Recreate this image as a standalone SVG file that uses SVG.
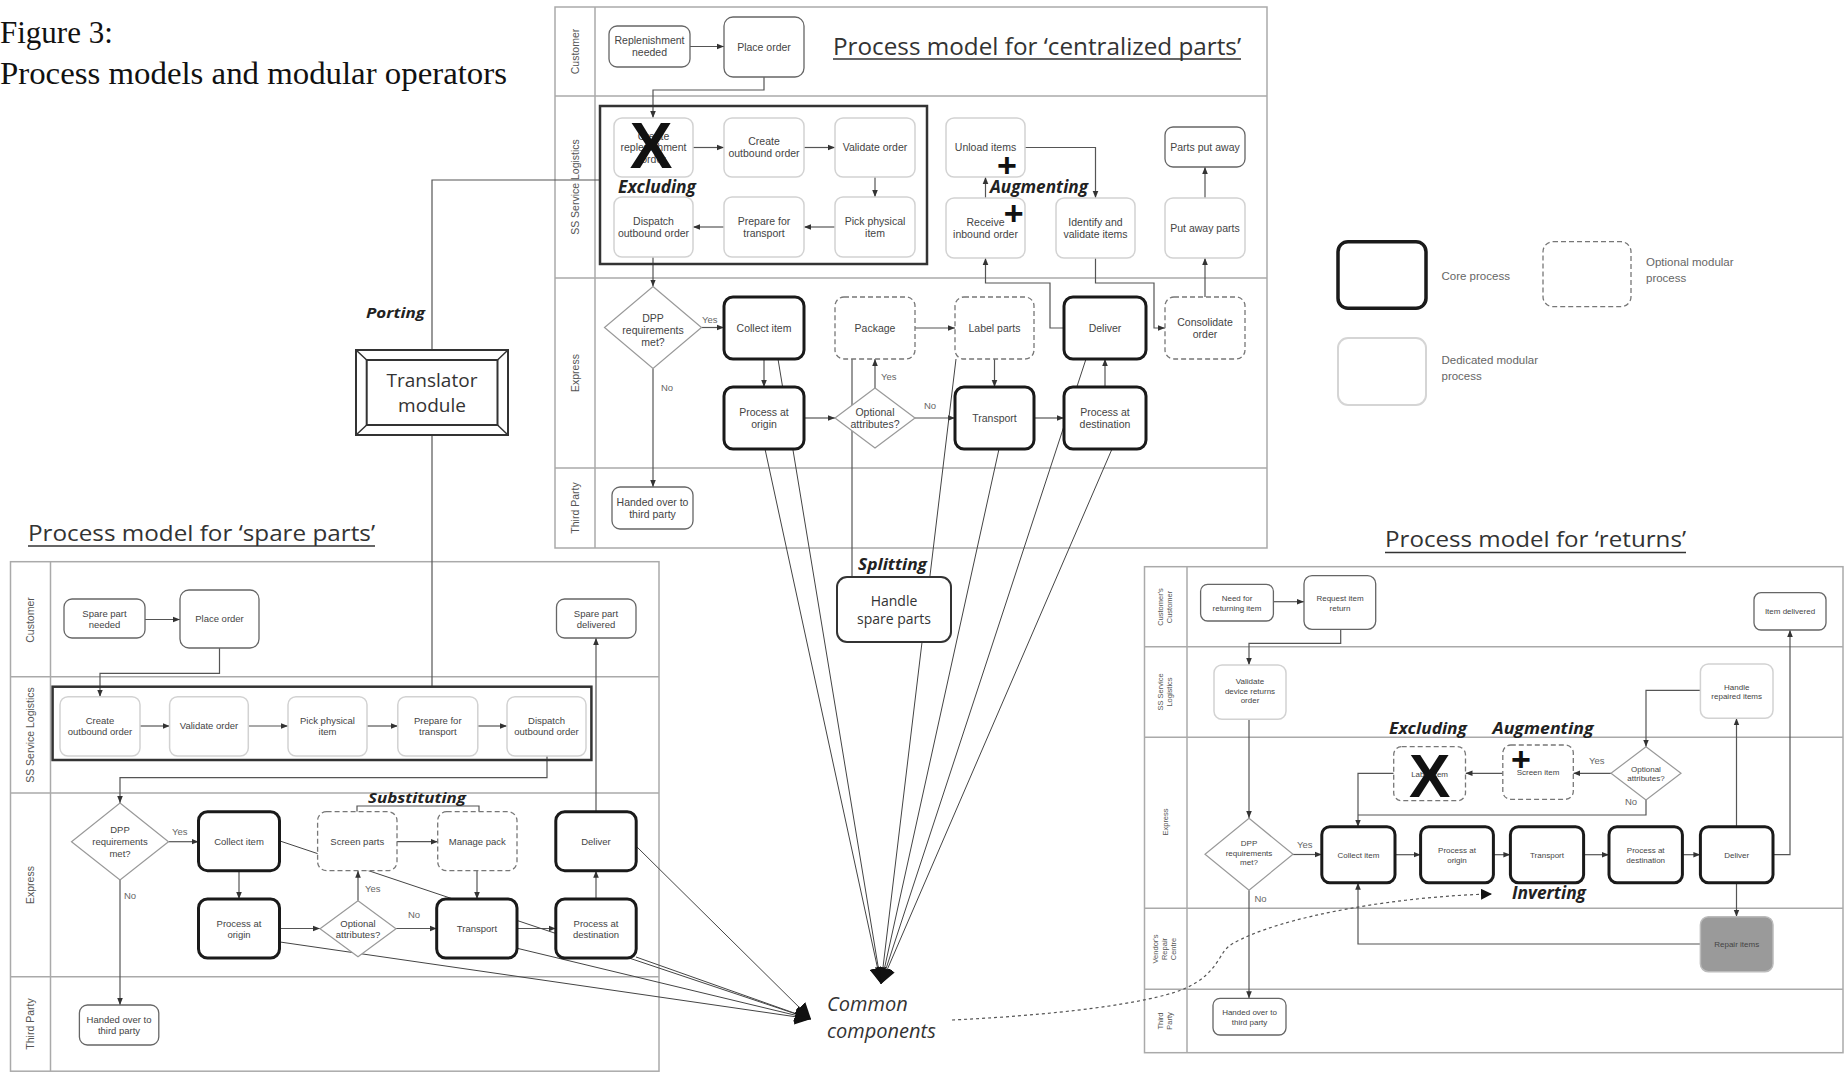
<svg xmlns="http://www.w3.org/2000/svg" width="1844" height="1072" viewBox="0 0 1844 1072">
<defs>
<style>
.core{fill:#fff;stroke:#1a1a1a;stroke-width:3}
.ded{fill:#fff;stroke:#d2d2d2;stroke-width:1.5}
.opt{fill:#fff;stroke:#777;stroke-width:1.3;stroke-dasharray:5 3}
.ev{fill:#fff;stroke:#666;stroke-width:1.3}
.dia{fill:#fff;stroke:#999;stroke-width:1.2}
.grp{fill:none;stroke:#333;stroke-width:2.5}
.pan{fill:#fff;stroke:#aaa;stroke-width:1.5}
.lane{stroke:#aaa;stroke-width:1.5}
.t{font-family:"Liberation Sans",Arial,sans-serif;font-size:10.5px;fill:#444;text-anchor:middle}
.ts{font-family:"Liberation Sans",Arial,sans-serif;font-size:9.5px;fill:#444;text-anchor:middle}
.tr{font-family:"Liberation Sans",Arial,sans-serif;font-size:8px;fill:#444;text-anchor:middle}
.ll{font-family:"Liberation Sans",Arial,sans-serif;font-size:10.5px;fill:#555;text-anchor:middle}
.llr{font-family:"Liberation Sans",Arial,sans-serif;font-size:7.5px;fill:#555;text-anchor:middle}
.yn{font-family:"Liberation Sans",Arial,sans-serif;font-size:9.5px;fill:#666}
.op{font-family:"Open Sans",sans-serif;font-weight:bold;font-style:italic;fill:#222}
.ttl{font-family:"Open Sans",sans-serif;fill:#333}
.lg{font-family:"Liberation Sans",Arial,sans-serif;font-size:11.5px;fill:#666}
.mark{font-family:"Liberation Sans",Arial,sans-serif;font-weight:bold;fill:#111;text-anchor:middle}
#connectors path{fill:none;stroke:#555;stroke-width:1.2}
#connectors .arr{marker-end:url(#a)}
#connectors .cc{stroke:#444;stroke-width:1;marker-end:url(#big)}
#connectors .dot{stroke:#555;stroke-width:1.2;stroke-dasharray:3 3;marker-end:url(#tri)}
</style>
<marker id="a" viewBox="0 0 10 10" refX="10" refY="5" markerWidth="7" markerHeight="7" markerUnits="userSpaceOnUse" orient="auto"><path d="M0,1 L10,5 L0,9 z" fill="#333"/></marker>
<marker id="big" viewBox="0 0 10 10" refX="10" refY="5" markerWidth="16" markerHeight="16" markerUnits="userSpaceOnUse" orient="auto"><path d="M0,0 L10,5 L0,10 z" fill="#111"/></marker>
<marker id="tri" viewBox="0 0 10 10" refX="10" refY="5" markerWidth="11" markerHeight="11" markerUnits="userSpaceOnUse" orient="auto"><path d="M0,0 L10,5 L0,10 z" fill="#111"/></marker>
</defs>
<rect width="1844" height="1072" fill="#fff"/>

<g id="figure-title" font-family="'Liberation Serif','Times New Roman',serif" font-size="31" fill="#111">
<text x="0" y="43">Figure 3:</text>
<text x="0" y="84" textLength="507" lengthAdjust="spacingAndGlyphs">Process models and modular operators</text>
</g>

<!-- Panels -->
<g id="panel-centralized">
<rect class="pan" x="555" y="7" width="712" height="541"/>
<line class="lane" x1="595" y1="7" x2="595" y2="548"/>
<line class="lane" x1="555" y1="96" x2="1267" y2="96"/>
<line class="lane" x1="555" y1="278" x2="1267" y2="278"/>
<line class="lane" x1="555" y1="468" x2="1267" y2="468"/>
<text class="ll" transform="translate(579,51.5) rotate(-90)">Customer</text>
<text class="ll" transform="translate(579,187) rotate(-90)">SS Service Logistics</text>
<text class="ll" transform="translate(579,373) rotate(-90)">Express</text>
<text class="ll" transform="translate(579,508) rotate(-90)">Third Party</text>
<text class="ttl" x="833" y="55" font-size="24" textLength="408" lengthAdjust="spacingAndGlyphs">Process model for ‘centralized parts’</text>
<line x1="833" y1="59" x2="1241" y2="59" stroke="#333" stroke-width="1.6"/>
</g>

<g id="panel-spare">
<rect class="pan" x="10.5" y="561.7" width="648.5" height="509.5"/>
<line class="lane" x1="50.5" y1="561.7" x2="50.5" y2="1071.2"/>
<line class="lane" x1="10.5" y1="676.7" x2="659" y2="676.7"/>
<line class="lane" x1="10.5" y1="793" x2="659" y2="793"/>
<line class="lane" x1="10.5" y1="976.7" x2="659" y2="976.7"/>
<text class="ll" transform="translate(34,620) rotate(-90)">Customer</text>
<text class="ll" transform="translate(34,735) rotate(-90)">SS Service Logistics</text>
<text class="ll" transform="translate(34,885) rotate(-90)">Express</text>
<text class="ll" transform="translate(34,1024) rotate(-90)">Third Party</text>
<text class="ttl" x="28" y="541" font-size="22" textLength="347" lengthAdjust="spacingAndGlyphs">Process model for ‘spare parts’</text>
<line x1="28" y1="546" x2="375" y2="546" stroke="#333" stroke-width="1.6"/>
</g>

<g id="panel-returns">
<rect class="pan" x="1144.5" y="566.7" width="698.5" height="486"/>
<line class="lane" x1="1187" y1="566.7" x2="1187" y2="1052.7"/>
<line class="lane" x1="1144.5" y1="646.7" x2="1843" y2="646.7"/>
<line class="lane" x1="1144.5" y1="737.3" x2="1843" y2="737.3"/>
<line class="lane" x1="1144.5" y1="908.3" x2="1843" y2="908.3"/>
<line class="lane" x1="1144.5" y1="989.3" x2="1843" y2="989.3"/>
<text class="llr" transform="translate(1163,607) rotate(-90)"><tspan x="0" dy="0">Customer's</tspan><tspan x="0" dy="9">Customer</tspan></text>
<text class="llr" transform="translate(1163,692) rotate(-90)"><tspan x="0" dy="0">SS Service</tspan><tspan x="0" dy="9">Logistics</tspan></text>
<text class="llr" transform="translate(1168,822) rotate(-90)">Express</text>
<text class="llr" transform="translate(1158,949) rotate(-90)"><tspan x="0" dy="0">Vendor's</tspan><tspan x="0" dy="9">Repair</tspan><tspan x="0" dy="9">Centre</tspan></text>
<text class="llr" transform="translate(1163,1021) rotate(-90)"><tspan x="0" dy="0">Third</tspan><tspan x="0" dy="9">Party</tspan></text>
<text class="ttl" x="1385" y="547" font-size="22" textLength="301" lengthAdjust="spacingAndGlyphs">Process model for ‘returns’</text>
<line x1="1385" y1="552.5" x2="1686" y2="552.5" stroke="#333" stroke-width="1.6"/>
</g>

<!-- Connectors -->
<g id="connectors">
<!-- centralized -->
<path class="arr" d="M690,46.5 H724"/>
<path class="arr" d="M764,77 V90 H653 V118"/>
<path class="arr" d="M693,147.5 H724"/>
<path class="arr" d="M804,147.5 H835"/>
<path class="arr" d="M875,177 V197"/>
<path class="arr" d="M835,227 H804"/>
<path class="arr" d="M724,227 H693"/>
<path class="arr" d="M653,257 V286.5"/>
<path class="arr" d="M701.5,327.5 H724"/>
<path class="arr" d="M653,368.5 V487"/>
<path class="arr" d="M764,359 V387"/>
<path class="arr" d="M804,418 H835"/>
<path class="arr" d="M875,388 V359"/>
<path class="arr" d="M915,418 H955"/>
<path class="arr" d="M915,328 H955"/>
<path class="arr" d="M994.5,359 V387"/>
<path class="arr" d="M1034,418 H1064"/>
<path class="arr" d="M1105,387 V359"/>
<path class="arr" d="M1064,328 H1050 V283 H985.5 V258"/>
<path class="arr" d="M985.5,198 V177"/>
<path class="arr" d="M1025,147.5 H1095.5 V198"/>
<path class="arr" d="M1095.5,258 V283 H1154 V328 H1165"/>
<path class="arr" d="M1205,297 V258"/>
<path class="arr" d="M1205,198 V167"/>
<path d="M852,359 V577"/>
<path d="M432,350 V180 H600" stroke-width="1.6"/>
<!-- spare parts -->
<path class="arr" d="M145,619.5 H180"/>
<path class="arr" d="M219.5,648 V673.3 H100 V696.7"/>
<path class="arr" d="M140,726 H169.6"/>
<path class="arr" d="M248.3,726 H288"/>
<path class="arr" d="M367,726 H397.8"/>
<path class="arr" d="M477.8,726 H507"/>
<path class="arr" d="M547,756 V777.7 H120 V803"/>
<path class="arr" d="M168.5,841.7 H198.5"/>
<path class="arr" d="M120,880 V1005"/>
<path class="arr" d="M239,870.7 V899"/>
<path class="arr" d="M279.5,928.5 H320"/>
<path class="arr" d="M358,900.7 V870.7"/>
<path class="arr" d="M396,928.5 H436.7"/>
<path class="arr" d="M397,841.7 H437.7"/>
<path class="arr" d="M477,870.7 V899"/>
<path class="arr" d="M517,928.5 H555.8"/>
<path class="arr" d="M596,899 V870.7"/>
<path class="arr" d="M596,811.7 V638"/>
<path d="M432,435 V686.7" stroke-width="1.6"/>
<path d="M357,811.7 V806 H479 V811.7" stroke="#333" stroke-width="1.8"/>
<!-- returns -->
<path class="arr" d="M1273.4,601.7 H1304"/>
<path class="arr" d="M1340.7,629.3 V643.3 H1249 V665"/>
<path class="arr" d="M1249,719.3 V818"/>
<path class="arr" d="M1293,854.5 H1321.8"/>
<path class="arr" d="M1249,890.2 V998.3"/>
<path class="arr" d="M1395,854.7 H1420.6"/>
<path class="arr" d="M1493.4,854.7 H1510.4"/>
<path class="arr" d="M1583.6,854.7 H1609"/>
<path class="arr" d="M1682.4,854.7 H1700.4"/>
<path class="arr" d="M1736.5,826.7 V718.3"/>
<path class="arr" d="M1773,854.7 H1790 V630"/>
<path class="arr" d="M1700.4,690.3 H1646 V746.7"/>
<path class="arr" d="M1611,773.3 H1573.3"/>
<path class="arr" d="M1502.8,773.3 H1465.5"/>
<path class="arr" d="M1393.7,773.3 H1358 V826.7"/>
<path d="M1646,800 V815 H1358"/>
<path class="arr" d="M1736.5,882.7 V916.7"/>
<path class="arr" d="M1700.4,944 H1358 V882.7"/>
<!-- common components -->
<path class="cc" d="M765,449 L881,984"/>
<path class="cc" d="M778,359 L881,984"/>
<path class="cc" d="M956,359 L881,984"/>
<path class="cc" d="M999,449 L881,984"/>
<path class="cc" d="M1086,359 L881,984"/>
<path class="cc" d="M1112,449 L881,984"/>
<path class="cc" d="M280,841 L811,1019"/>
<path class="cc" d="M280,942 L811,1019"/>
<path class="cc" d="M516,948 L811,1019"/>
<path class="cc" d="M636,957 L811,1019"/>
<path class="cc" d="M637,847 L811,1019"/>
<path class="dot" d="M952,1020 C1080,1014 1160,1000 1186,988 C1220,972 1218,952 1232,944 C1280,916 1400,896 1492,894"/>
</g>

<!-- Centralized nodes -->
<g id="c_repl"><rect class="ev" x="609" y="26" width="81" height="41" rx="8"/><text class="t" font-size="10" x="649.5" y="43.5">Replenishment<tspan x="649.5" dy="12.5">needed</tspan></text></g>
<g id="c_place"><rect class="ev" x="724" y="17" width="80" height="60" rx="9"/><text class="t" x="764" y="50.7">Place order</text></g>
<g id="c_exclude_group"><rect class="grp" x="600" y="106" width="327" height="158"/></g>
<g id="c_t1"><rect class="ded" x="614" y="118" width="79" height="59" rx="8"/><text class="t" font-size="10" x="653.5" y="139.5" fill="#777">Create<tspan x="653.5" dy="11.5">replenishment</tspan><tspan x="653.5" dy="11.5">order</tspan></text><text class="mark" font-size="64" x="651" y="168.3">X</text></g>
<g id="c_t2"><rect class="ded" x="724" y="118" width="80" height="59" rx="8"/><text class="t" x="764" y="145.3">Create<tspan x="764" dy="12">outbound order</tspan></text></g>
<g id="c_t3"><rect class="ded" x="835" y="118" width="80" height="59" rx="8"/><text class="t" x="875" y="151.2">Validate order</text></g>
<g id="c_t4"><rect class="ded" x="835" y="197" width="80" height="60" rx="8"/><text class="t" x="875" y="224.8">Pick physical<tspan x="875" dy="12">item</tspan></text></g>
<g id="c_t5"><rect class="ded" x="724" y="197" width="80" height="60" rx="8"/><text class="t" x="764" y="224.8">Prepare for<tspan x="764" dy="12">transport</tspan></text></g>
<g id="c_t6"><rect class="ded" x="614" y="197" width="79" height="60" rx="8"/><text class="t" x="653.5" y="224.8">Dispatch<tspan x="653.5" dy="12">outbound order</tspan></text></g>
<g id="c_excluding_label"><text class="op" x="618" y="193" font-size="17" textLength="78" lengthAdjust="spacingAndGlyphs">Excluding</text></g>
<g id="c_unload"><rect class="ded" x="946" y="118" width="79" height="59" rx="8"/><text class="t" x="985.5" y="151.2">Unload items</text></g>
<g id="c_receive"><rect class="ded" x="946" y="198" width="79" height="60" rx="8"/><text class="t" x="985.5" y="225.8">Receive<tspan x="985.5" dy="12">inbound order</tspan></text></g>
<g id="c_identify"><rect class="ded" x="1056" y="198" width="79" height="60" rx="8"/><text class="t" x="1095.5" y="225.8">Identify and<tspan x="1095.5" dy="12">validate items</tspan></text></g>
<g id="c_partsaway"><rect class="ev" x="1165" y="127" width="80" height="40" rx="8"/><text class="t" x="1205" y="150.7">Parts put away</text></g>
<g id="c_putaway"><rect class="ded" x="1165" y="198" width="80" height="60" rx="8"/><text class="t" x="1205" y="231.7">Put away parts</text></g>
<g id="c_augmenting"><text class="mark" font-size="34" x="1007" y="176.6">+</text><text class="mark" font-size="34" x="1013.6" y="225">+</text><text class="op" x="990" y="193" font-size="17" textLength="98" lengthAdjust="spacingAndGlyphs">Augmenting</text></g>
<g id="c_dpp"><polygon class="dia" points="653,286.5 701.5,327.5 653,368.5 604.5,327.5"/><text class="t" font-size="10" x="653" y="321.5">DPP<tspan x="653" dy="12">requirements</tspan><tspan x="653" dy="12">met?</tspan></text></g>
<g id="c_collect"><rect class="core" x="724" y="297" width="80" height="62" rx="9"/><text class="t" x="764" y="331.7">Collect item</text></g>
<g id="c_package"><rect class="opt" x="835" y="297" width="80" height="62" rx="9"/><text class="t" x="875" y="331.7">Package</text></g>
<g id="c_label"><rect class="opt" x="955" y="297" width="79" height="62" rx="9"/><text class="t" x="994.5" y="331.7">Label parts</text></g>
<g id="c_deliver"><rect class="core" x="1064" y="297" width="82" height="62" rx="9"/><text class="t" x="1105" y="331.7">Deliver</text></g>
<g id="c_consol"><rect class="opt" x="1165" y="297" width="80" height="62" rx="9"/><text class="t" x="1205" y="325.8">Consolidate<tspan x="1205" dy="12">order</tspan></text></g>
<g id="c_origin"><rect class="core" x="724" y="387" width="80" height="62" rx="9"/><text class="t" x="764" y="415.8">Process at<tspan x="764" dy="12">origin</tspan></text></g>
<g id="c_opt"><polygon class="dia" points="875,388 915,418 875,448 835,418"/><text class="t" font-size="10" x="875" y="415.8">Optional<tspan x="875" dy="12">attributes?</tspan></text></g>
<g id="c_transport"><rect class="core" x="955" y="387" width="79" height="62" rx="9"/><text class="t" x="994.5" y="421.7">Transport</text></g>
<g id="c_dest"><rect class="core" x="1064" y="387" width="82" height="62" rx="9"/><text class="t" x="1105" y="415.8">Process at<tspan x="1105" dy="12">destination</tspan></text></g>
<g id="c_handed"><rect class="ev" x="612" y="487" width="81" height="42" rx="8"/><text class="t" x="652.5" y="505.8">Handed over to<tspan x="652.5" dy="12">third party</tspan></text></g>
<g id="c_yesno"><text class="yn" x="702" y="323">Yes</text><text class="yn" x="661" y="391">No</text><text class="yn" x="881" y="380">Yes</text><text class="yn" x="924" y="409">No</text></g>

<!-- Translator, splitting, common components -->
<g id="n_translator">
<rect x="356" y="350" width="152" height="85" fill="#fff" stroke="#333" stroke-width="2"/>
<rect x="366.7" y="360" width="130.8" height="65" fill="#fff" stroke="#333" stroke-width="2"/>
<path d="M356,350 L366.7,360 M508,350 L497.5,360 M356,435 L366.7,425 M508,435 L497.5,425" stroke="#333" stroke-width="1.5"/>
<text class="ttl" x="432" y="387" font-size="19" text-anchor="middle">Translator</text>
<text class="ttl" x="432" y="412" font-size="19" text-anchor="middle">module</text>
</g>
<g id="l_porting"><text class="op" x="366" y="318" font-size="15" textLength="59" lengthAdjust="spacingAndGlyphs">Porting</text></g>
<g id="n_handle_spare"><rect x="837" y="577" width="114" height="65" rx="10" fill="#fff" stroke="#333" stroke-width="2"/><text class="ttl" x="894" y="606" font-size="14" text-anchor="middle" fill="#444">Handle</text><text class="ttl" x="894" y="624" font-size="14" text-anchor="middle" fill="#444">spare parts</text></g>
<g id="l_splitting"><text class="op" x="858" y="570" font-size="16" textLength="69" lengthAdjust="spacingAndGlyphs">Splitting</text></g>
<g id="n_common"><text class="ttl" x="827" y="1011" font-size="20" font-style="italic" fill="#444">Common</text><text class="ttl" x="827" y="1038" font-size="20" font-style="italic" fill="#444">components</text></g>

<!-- Legend -->
<g id="legend">
<rect x="1338" y="241.7" width="88" height="66.6" rx="10" fill="#fff" stroke="#1a1a1a" stroke-width="3.5"/>
<text class="lg" x="1441.5" y="280">Core process</text>
<rect x="1543" y="241.7" width="88" height="65" rx="10" fill="#fff" stroke="#777" stroke-width="1.3" stroke-dasharray="5 3"/>
<text class="lg" x="1646" y="266">Optional modular</text>
<text class="lg" x="1646" y="282">process</text>
<rect x="1338" y="338" width="88" height="67" rx="10" fill="#fff" stroke="#d5d5d5" stroke-width="2"/>
<text class="lg" x="1441.5" y="364">Dedicated modular</text>
<text class="lg" x="1441.5" y="380">process</text>
</g>

<!-- Spare parts nodes -->
<g id="s_need"><rect class="ev" x="64" y="599" width="81" height="39" rx="8"/><text class="ts" x="104.5" y="616.5">Spare part<tspan x="104.5" dy="11">needed</tspan></text></g>
<g id="s_place"><rect class="ev" x="180" y="590" width="79" height="58" rx="9"/><text class="ts" x="219.5" y="622.3">Place order</text></g>
<g id="s_delivered"><rect class="ev" x="556.5" y="599" width="79.5" height="39" rx="8"/><text class="ts" x="596" y="616.5">Spare part<tspan x="596" dy="11">delivered</tspan></text></g>
<g id="s_group"><rect class="grp" x="52.6" y="686.7" width="538.8" height="73.3"/></g>
<g id="s_t1"><rect class="ded" x="60" y="696.7" width="80" height="59.3" rx="8"/><text class="ts" x="100" y="724">Create<tspan x="100" dy="11">outbound order</tspan></text></g>
<g id="s_t2"><rect class="ded" x="169.6" y="696.7" width="78.7" height="59.3" rx="8"/><text class="ts" x="209" y="729.3">Validate order</text></g>
<g id="s_t3"><rect class="ded" x="288" y="696.7" width="79" height="59.3" rx="8"/><text class="ts" x="327.5" y="724">Pick physical<tspan x="327.5" dy="11">item</tspan></text></g>
<g id="s_t4"><rect class="ded" x="397.8" y="696.7" width="80" height="59.3" rx="8"/><text class="ts" x="437.8" y="724">Prepare for<tspan x="437.8" dy="11">transport</tspan></text></g>
<g id="s_t5"><rect class="ded" x="507" y="696.7" width="79" height="59.3" rx="8"/><text class="ts" x="546.5" y="724">Dispatch<tspan x="546.5" dy="11">outbound order</tspan></text></g>
<g id="s_dpp"><polygon class="dia" points="120,803 168.5,841.7 120,880 71.5,841.7"/><text class="ts" font-size="9" x="120" y="833">DPP<tspan x="120" dy="12">requirements</tspan><tspan x="120" dy="12">met?</tspan></text></g>
<g id="s_collect"><rect class="core" x="198.5" y="811.7" width="81" height="59" rx="9"/><text class="ts" x="239" y="844.5">Collect item</text></g>
<g id="s_screen"><rect class="opt" x="317.6" y="811.7" width="79.4" height="59" rx="9"/><text class="ts" x="357.3" y="844.5">Screen parts</text></g>
<g id="s_pack"><rect class="opt" x="437.7" y="811.7" width="79.3" height="59" rx="9"/><text class="ts" x="477.3" y="844.5">Manage pack</text></g>
<g id="s_deliver"><rect class="core" x="555.8" y="811.7" width="80.4" height="59" rx="9"/><text class="ts" x="596" y="844.5">Deliver</text></g>
<g id="s_origin"><rect class="core" x="198.5" y="899" width="81" height="59" rx="9"/><text class="ts" x="239" y="926.5">Process at<tspan x="239" dy="11">origin</tspan></text></g>
<g id="s_opt"><polygon class="dia" points="358,900.7 396,928.7 358,956.7 320,928.7"/><text class="ts" font-size="9" x="358" y="926.5">Optional<tspan x="358" dy="11">attributes?</tspan></text></g>
<g id="s_transport"><rect class="core" x="436.7" y="899" width="80.3" height="59" rx="9"/><text class="ts" x="477" y="931.8">Transport</text></g>
<g id="s_dest"><rect class="core" x="555.8" y="899" width="80.4" height="59" rx="9"/><text class="ts" x="596" y="926.5">Process at<tspan x="596" dy="11">destination</tspan></text></g>
<g id="s_handed"><rect class="ev" x="79.4" y="1005" width="79.4" height="40" rx="8"/><text class="ts" x="119" y="1023">Handed over to<tspan x="119" dy="11">third party</tspan></text></g>
<g id="s_substituting"><text class="op" x="368" y="803" font-size="15" textLength="98" lengthAdjust="spacingAndGlyphs">Substituting</text></g>
<g id="s_yesno"><text class="yn" x="172" y="835">Yes</text><text class="yn" x="124" y="899">No</text><text class="yn" x="365" y="892">Yes</text><text class="yn" x="408" y="918">No</text></g>

<!-- Returns nodes -->
<g id="r_need"><rect class="ev" x="1200.6" y="584.3" width="72.8" height="36.7" rx="7"/><text class="tr" x="1237" y="601">Need for<tspan x="1237" dy="9.5">returning item</tspan></text></g>
<g id="r_request"><rect class="ev" x="1304" y="575.7" width="71.7" height="53.6" rx="8"/><text class="tr" x="1340" y="601">Request item<tspan x="1340" dy="9.5">return</tspan></text></g>
<g id="r_delivered"><rect class="ev" x="1754" y="592.7" width="72" height="37.3" rx="7"/><text class="tr" x="1790" y="614">Item delivered</text></g>
<g id="r_validate"><rect class="ded" x="1214" y="665" width="72" height="54.3" rx="8"/><text class="tr" x="1250" y="684">Validate<tspan x="1250" dy="9.5">device returns</tspan><tspan x="1250" dy="9.5">order</tspan></text></g>
<g id="r_handle"><rect class="ded" x="1700.4" y="664" width="72.6" height="54.3" rx="8"/><text class="tr" x="1736.7" y="689.5">Handle<tspan x="1736.7" dy="9.5">repaired items</tspan></text></g>
<g id="r_opt"><polygon class="dia" points="1646,746.7 1681,773.3 1646,800 1611,773.3"/><text class="tr" x="1646" y="771.8">Optional<tspan x="1646" dy="9.5">attributes?</tspan></text></g>
<g id="r_screen"><rect class="opt" x="1502.8" y="745" width="70.5" height="54.3" rx="8"/><text class="tr" x="1538" y="775">Screen item</text><text class="mark" font-size="34" x="1521" y="770.6">+</text></g>
<g id="r_label"><rect class="opt" x="1393.7" y="746.7" width="71.8" height="54" rx="8"/><text class="tr" x="1429.6" y="776.7" fill="#777">Label item</text><text class="mark" font-size="62" x="1429.6" y="796.7">X</text></g>
<g id="r_ops"><text class="op" x="1389" y="734" font-size="16" textLength="78" lengthAdjust="spacingAndGlyphs">Excluding</text><text class="op" x="1492.5" y="734" font-size="16" textLength="101" lengthAdjust="spacingAndGlyphs">Augmenting</text><text class="op" x="1512" y="899" font-size="17" textLength="74" lengthAdjust="spacingAndGlyphs">Inverting</text></g>
<g id="r_dpp"><polygon class="dia" points="1249,818.3 1293,854.3 1249,890.2 1205,854.3"/><text class="tr" x="1249" y="846">DPP<tspan x="1249" dy="9.5">requirements</tspan><tspan x="1249" dy="9.5">met?</tspan></text></g>
<g id="r_collect"><rect class="core" x="1321.8" y="826.7" width="73.2" height="56" rx="8"/><text class="tr" x="1358.4" y="857.7">Collect item</text></g>
<g id="r_origin"><rect class="core" x="1420.6" y="826.7" width="72.8" height="56" rx="8"/><text class="tr" x="1457" y="853.2">Process at<tspan x="1457" dy="9.5">origin</tspan></text></g>
<g id="r_transport"><rect class="core" x="1510.4" y="826.7" width="73.2" height="56" rx="8"/><text class="tr" x="1547" y="857.7">Transport</text></g>
<g id="r_dest"><rect class="core" x="1609" y="826.7" width="73.4" height="56" rx="8"/><text class="tr" x="1645.7" y="853.2">Process at<tspan x="1645.7" dy="9.5">destination</tspan></text></g>
<g id="r_deliver"><rect class="core" x="1700.4" y="826.7" width="72.6" height="56" rx="8"/><text class="tr" x="1736.7" y="857.7">Deliver</text></g>
<g id="r_repair"><rect x="1700.4" y="916.7" width="72.6" height="55" rx="8" fill="#9a9a9a" stroke="#bbb" stroke-width="1.5"/><text class="tr" x="1736.7" y="947.2" fill="#333">Repair items</text></g>
<g id="r_handed"><rect class="ev" x="1213" y="998.3" width="73" height="36.7" rx="7"/><text class="tr" x="1249.5" y="1015">Handed over to<tspan x="1249.5" dy="9.5">third party</tspan></text></g>
<g id="r_yesno"><text class="yn" font-size="8" x="1589" y="764">Yes</text><text class="yn" font-size="8" x="1625" y="805">No</text><text class="yn" font-size="8.5" x="1297" y="848">Yes</text><text class="yn" font-size="8.5" x="1254.5" y="902">No</text></g>
</svg>
